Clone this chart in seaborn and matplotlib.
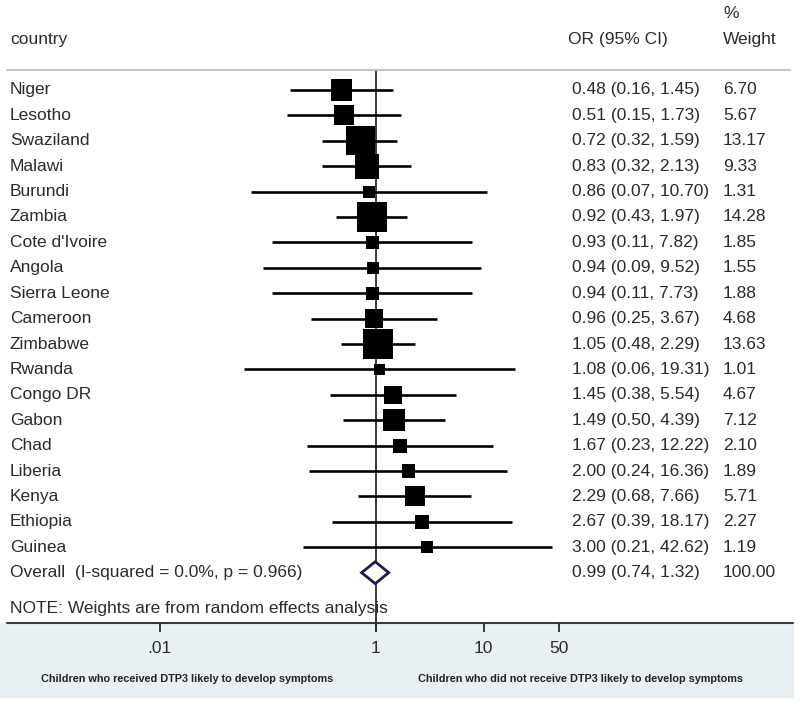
import numpy as np
import pandas as pd
import matplotlib
matplotlib.use('Agg')
import matplotlib.pyplot as plt
import seaborn as sns

# study data
countries = ['Niger', 'Lesotho', 'Swaziland', 'Malawi', 'Burundi', 'Zambia',
             "Cote d'Ivoire", 'Angola', 'Sierra Leone', 'Cameroon', 'Zimbabwe',
             'Rwanda', 'Congo DR', 'Gabon', 'Chad', 'Liberia', 'Kenya',
             'Ethiopia', 'Guinea']
odds = [0.48, 0.51, 0.72, 0.83, 0.86, 0.92, 0.93, 0.94, 0.94, 0.96, 1.05,
        1.08, 1.45, 1.49, 1.67, 2.00, 2.29, 2.67, 3.00]
ci_low = [0.16, 0.15, 0.32, 0.32, 0.07, 0.43, 0.11, 0.09, 0.11, 0.25, 0.48,
          0.06, 0.38, 0.50, 0.23, 0.24, 0.68, 0.39, 0.21]
ci_high = [1.45, 1.73, 1.59, 2.13, 10.70, 1.97, 7.82, 9.52, 7.73, 3.67, 2.29,
           19.31, 5.54, 4.39, 12.22, 16.36, 7.66, 18.17, 42.62]
weights = [6.70, 5.67, 13.17, 9.33, 1.31, 14.28, 1.85, 1.55, 1.88, 4.68,
           13.63, 1.01, 4.67, 7.12, 2.10, 1.89, 5.71, 2.27, 1.19]

overall_label = 'Overall  (I-squared = 0.0%, p = 0.966)'
overall_or = 0.99
overall_ci = (0.74, 1.32)
overall_weight = 100.00

tick_values = [0.01, 1, 10, 50]
tick_labels = ['.01', '1', '10', '50']
left_note = 'Children who received DTP3 likely to develop symptoms'
right_note = 'Children who did not receive DTP3 likely to develop symptoms'

df = pd.DataFrame({'country': countries, 'OR': odds, 'lo': ci_low,
                   'hi': ci_high, 'weight': weights})
df['row'] = np.arange(len(df))
overall_row = len(df)

sns.set_theme(style='white')
plt.rcParams['font.family'] = ['Liberation Sans', 'DejaVu Sans']

fig = plt.figure(figsize=(8, 7.03), dpi=100)
ax = fig.add_axes([0, 0, 1, 1])
ax.set_xscale('log')
ax.set_xlim(10 ** -3.48, 10 ** 3.93)
ax.set_ylim(24.13, -3.54)
ax.axis('off')

txt = '#2b2b2b'
fs = 12.5
tr = ax.get_yaxis_transform()

# light blue band under the axis
ax.axhspan(21.0, 23.9, xmin=0, xmax=793 / 800, color='#e8f0f3', zorder=0)

# separator lines
ax.axhline(-0.79, xmin=7 / 800, xmax=790 / 800, color='#c4c4c4', lw=1.5)
ax.axhline(21.0, xmin=7 / 800, xmax=793 / 800, color='#3a3a3a', lw=1.5)

# null line
ax.vlines(1, -0.79, 21.35, color='#2a2a2a', lw=1.3, zorder=1)

# confidence intervals
ax.hlines(df['row'], df['lo'], df['hi'], color='black', lw=1.9, zorder=2)

# weighted squares
sns.scatterplot(data=df, x='OR', y='row', size='weight', sizes=(65, 467),
                marker='s', color='black', edgecolor='black', linewidth=0,
                legend=False, ax=ax, zorder=3)
ax.set_xlabel('')
ax.set_ylabel('')

# pooled estimate diamond
dx = [overall_ci[0], overall_or, overall_ci[1], overall_or]
dy = [overall_row, overall_row - 0.43, overall_row, overall_row + 0.43]
ax.fill(dx, dy, facecolor='white', edgecolor='#1c1c4e', lw=2, zorder=4)

# header
ax.text(10 / 800, -2.0, 'country', transform=tr, fontsize=fs, color=txt, va='center')
ax.text(568 / 800, -2.0, 'OR (95% CI)', transform=tr, fontsize=fs, color=txt, va='center')
ax.text(723 / 800, -3.0, '%', transform=tr, fontsize=fs, color=txt, va='center')
ax.text(723 / 800, -2.0, 'Weight', transform=tr, fontsize=fs, color=txt, va='center')

# study rows
for _, r in df.iterrows():
    ax.text(10 / 800, r['row'], r['country'], transform=tr, fontsize=fs,
            color=txt, va='center')
    ax.text(572 / 800, r['row'], f"{r['OR']:.2f} ({r['lo']:.2f}, {r['hi']:.2f})",
            transform=tr, fontsize=fs, color=txt, va='center')
    ax.text(723 / 800, r['row'], f"{r['weight']:.2f}", transform=tr,
            fontsize=fs, color=txt, va='center')

ax.text(10 / 800, overall_row, overall_label, transform=tr, fontsize=fs,
        color=txt, va='center')
ax.text(572 / 800, overall_row,
        f"{overall_or:.2f} ({overall_ci[0]:.2f}, {overall_ci[1]:.2f})",
        transform=tr, fontsize=fs, color=txt, va='center')
ax.text(723 / 800, overall_row, f"{overall_weight:.2f}", transform=tr,
        fontsize=fs, color=txt, va='center')

ax.text(10 / 800, 20.4, 'NOTE: Weights are from random effects analysis',
        transform=tr, fontsize=fs, color=txt, va='center')

# x axis ticks
ax.vlines(tick_values, 21.0, 21.35, color='#2a2a2a', lw=1.3)
for v, lab in zip(tick_values, tick_labels):
    ax.text(v, 22.0, lab, fontsize=fs, color=txt, ha='center', va='center')

ax.text(187 / 800, 23.2, left_note, transform=tr, fontsize=7.8,
        fontweight='bold', color='#222222', ha='center', va='center')
ax.text(581 / 800, 23.2, right_note, transform=tr, fontsize=7.8,
        fontweight='bold', color='#222222', ha='center', va='center')

fig.savefig('out.png', dpi=100)
